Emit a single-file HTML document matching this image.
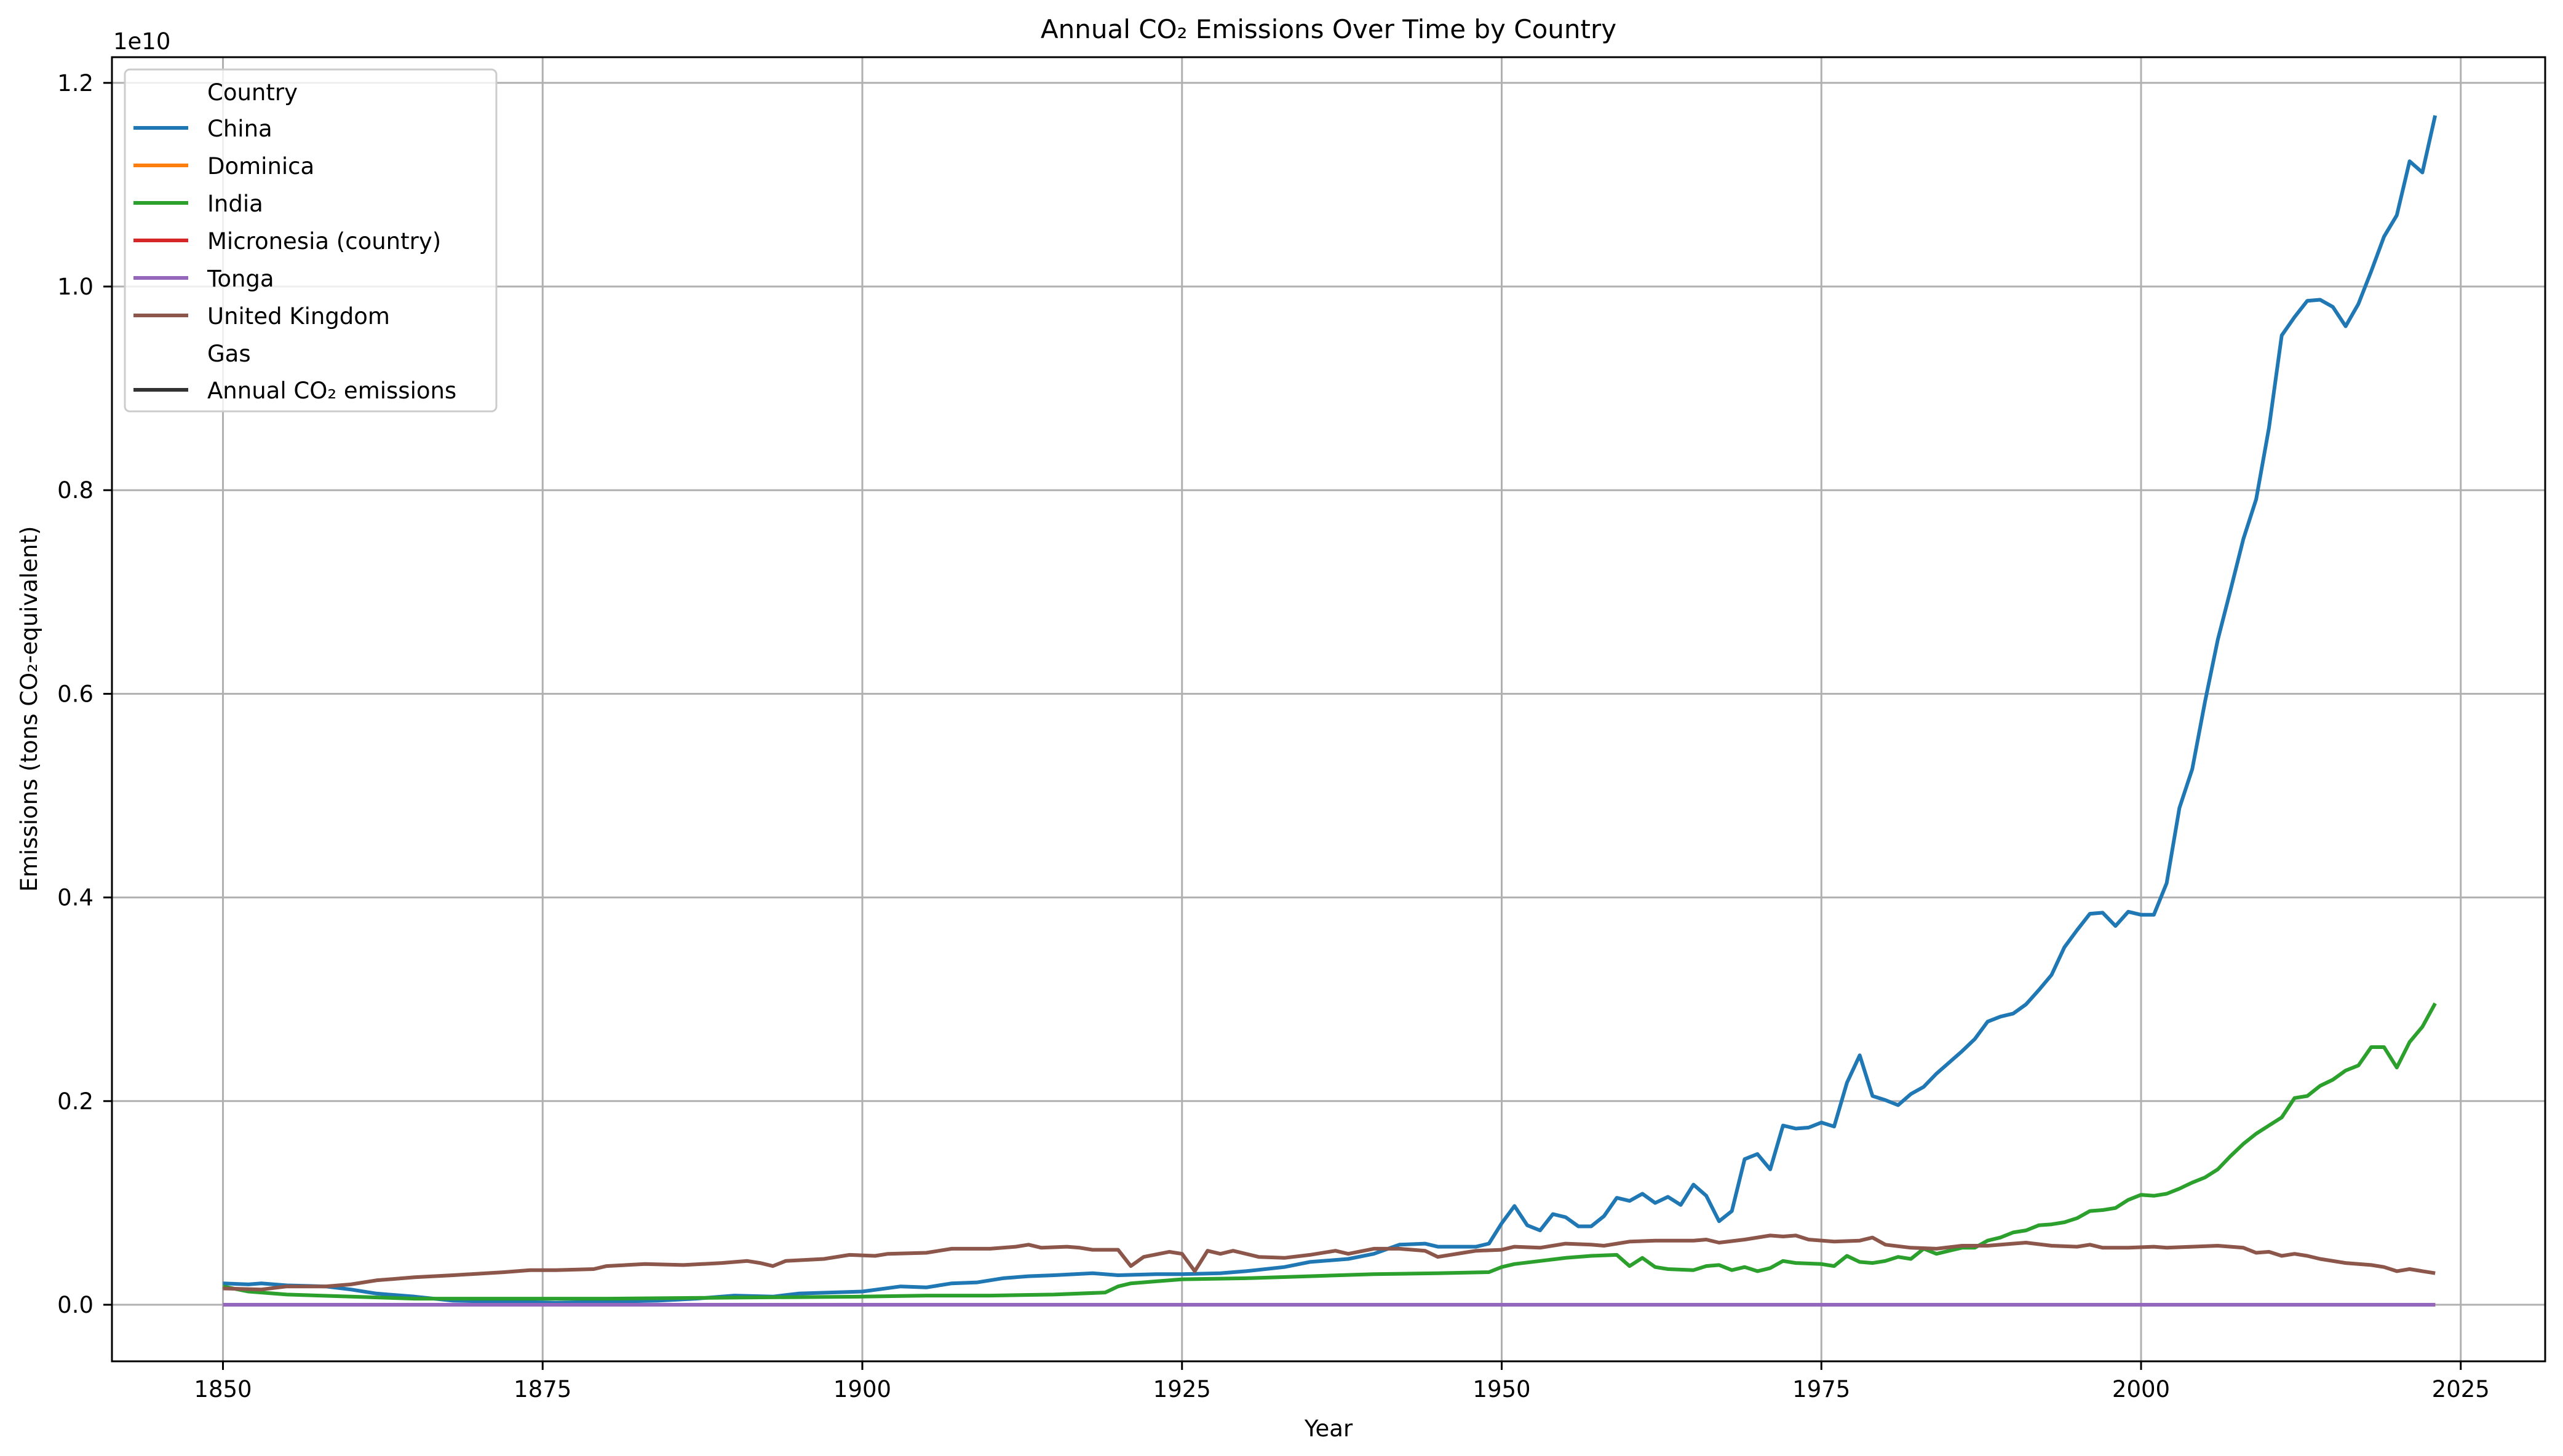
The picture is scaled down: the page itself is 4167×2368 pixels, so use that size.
<!DOCTYPE html>
<html><head><meta charset="utf-8"><style>
html,body{margin:0;padding:0;background:#fff;}
svg{display:block;font-family:"DejaVu Sans","Liberation Sans",sans-serif;}
</style></head><body>
<svg id="chart" width="4167" height="2368" viewBox="0 0 4167 2368" xmlns="http://www.w3.org/2000/svg">
<rect width="4167" height="2368" fill="#fff"/>
<g id="grid"></g>
<g id="series"></g>
<rect x="182" y="93" width="3956" height="2121" fill="none" stroke="#000" stroke-width="3"/>
<g id="axes"></g>
<text x="2160" y="62" font-size="42" text-anchor="middle">Annual CO₂ Emissions Over Time by Country</text>
<text x="2160" y="2336" font-size="37" text-anchor="middle">Year</text>
<text x="0" y="0" font-size="37" text-anchor="middle" transform="translate(60,1153) rotate(-90)">Emissions (tons CO₂-equivalent)</text>
<text x="184" y="80" font-size="37">1e10</text>
<g>
<rect x="203" y="113" width="604" height="556" rx="8" fill="#fff" fill-opacity="0.8" stroke="#ccc" stroke-width="3"/>
<text x="337" y="163" font-size="37">Country</text>
<line x1="217" y1="208" x2="306" y2="208" stroke="#1f77b4" stroke-width="6"/>
<text x="337" y="222" font-size="37">China</text>
<line x1="217" y1="269" x2="306" y2="269" stroke="#ff7f0e" stroke-width="6"/>
<text x="337" y="283" font-size="37">Dominica</text>
<line x1="217" y1="330" x2="306" y2="330" stroke="#2ca02c" stroke-width="6"/>
<text x="337" y="344" font-size="37">India</text>
<line x1="217" y1="391" x2="306" y2="391" stroke="#d62728" stroke-width="6"/>
<text x="337" y="405" font-size="37">Micronesia (country)</text>
<line x1="217" y1="452" x2="306" y2="452" stroke="#9467bd" stroke-width="6"/>
<text x="337" y="466" font-size="37">Tonga</text>
<line x1="217" y1="513" x2="306" y2="513" stroke="#8c564b" stroke-width="6"/>
<text x="337" y="527" font-size="37">United Kingdom</text>
<text x="337" y="588" font-size="37">Gas</text>
<line x1="217" y1="634" x2="306" y2="634" stroke="#333" stroke-width="6"/>
<text x="337" y="648" font-size="37">Annual CO₂ emissions</text>
</g>
</svg>
<script>
const xTicks = [1850, 1875, 1900, 1925, 1950, 1975, 2000, 2025];
const yTicks = [0, 0.2, 0.4, 0.6, 0.8, 1.0, 1.2];
const yTickLabels = ["0.0", "0.2", "0.4", "0.6", "0.8", "1.0", "1.2"];
const chinaYears = [1850,1852,1853,1855,1858,1860,1862,1865,1868,1872,1876,1880,1884,1887,1890,1893,1895,1900,1903,1905,1907,1909,1911,1913,1915,1918,1920,1923,1925,1928,1930,1933,1935,1938,1940,1942,1944,1945,1948,1949,1950,1951,1952,1953,1954,1955,1956,1957,1958,1959,1960,1961,1962,1963,1964,1965,1966,1967,1968,1969,1970,1971,1972,1973,1974,1975,1976,1977,1978,1979,1980,1981,1982,1983,1984,1985,1986,1987,1988,1989,1990,1991,1992,1993,1994,1995,1996,1997,1998,1999,2000,2001,2002,2003,2004,2005,2006,2007,2008,2009,2010,2011,2012,2013,2014,2015,2016,2017,2018,2019,2020,2021,2022,2023];
const chinaValues = [0.21,0.20,0.21,0.19,0.18,0.15,0.11,0.08,0.04,0.03,0.02,0.03,0.04,0.06,0.09,0.08,0.11,0.13,0.18,0.17,0.21,0.22,0.26,0.28,0.29,0.31,0.29,0.30,0.30,0.31,0.33,0.37,0.42,0.45,0.50,0.59,0.60,0.57,0.57,0.60,0.80,0.97,0.78,0.73,0.89,0.86,0.77,0.77,0.87,1.05,1.02,1.09,1.00,1.06,0.98,1.18,1.07,0.82,0.92,1.43,1.48,1.33,1.76,1.73,1.74,1.79,1.75,2.18,2.45,2.05,2.01,1.96,2.07,2.14,2.27,2.38,2.49,2.61,2.78,2.83,2.86,2.95,3.09,3.24,3.51,3.68,3.84,3.85,3.72,3.86,3.83,3.83,4.14,4.88,5.26,5.92,6.53,7.02,7.52,7.91,8.61,9.52,9.70,9.86,9.87,9.80,9.61,9.83,10.15,10.49,10.70,11.23,11.12,11.68];
const indiaYears = [1850,1852,1855,1860,1865,1870,1880,1890,1900,1905,1910,1915,1919,1920,1921,1923,1925,1930,1935,1940,1945,1949,1950,1951,1953,1955,1957,1959,1960,1961,1962,1963,1965,1966,1967,1968,1969,1970,1971,1972,1973,1975,1976,1977,1978,1979,1980,1981,1982,1983,1984,1985,1986,1987,1988,1989,1990,1991,1992,1993,1994,1995,1996,1997,1998,1999,2000,2001,2002,2003,2004,2005,2006,2007,2008,2009,2010,2011,2012,2013,2014,2015,2016,2017,2018,2019,2020,2021,2022,2023];
const indiaValues = [0.18,0.13,0.10,0.08,0.06,0.06,0.06,0.07,0.08,0.09,0.09,0.10,0.12,0.18,0.21,0.23,0.25,0.26,0.28,0.30,0.31,0.32,0.37,0.40,0.43,0.46,0.48,0.49,0.38,0.46,0.37,0.35,0.34,0.38,0.39,0.34,0.37,0.33,0.36,0.43,0.41,0.40,0.38,0.48,0.42,0.41,0.43,0.47,0.45,0.55,0.50,0.53,0.56,0.56,0.63,0.66,0.71,0.73,0.78,0.79,0.81,0.85,0.92,0.93,0.95,1.03,1.08,1.07,1.09,1.14,1.20,1.25,1.33,1.46,1.58,1.68,1.76,1.84,2.03,2.05,2.15,2.21,2.30,2.35,2.53,2.53,2.33,2.58,2.73,2.96];
const ukYears = [1850,1853,1855,1858,1860,1862,1865,1868,1872,1874,1876,1879,1880,1883,1886,1889,1891,1892,1893,1894,1897,1899,1901,1902,1905,1907,1910,1912,1913,1914,1916,1917,1918,1920,1921,1922,1924,1925,1926,1927,1928,1929,1931,1933,1935,1937,1938,1940,1942,1944,1945,1947,1948,1950,1951,1953,1955,1957,1958,1960,1962,1965,1966,1967,1969,1971,1972,1973,1974,1976,1978,1979,1980,1982,1984,1986,1988,1990,1991,1993,1995,1996,1997,1999,2001,2002,2004,2006,2008,2009,2010,2011,2012,2013,2014,2016,2018,2019,2020,2021,2022,2023];
const ukValues = [0.16,0.15,0.18,0.18,0.20,0.24,0.27,0.29,0.32,0.34,0.34,0.35,0.38,0.40,0.39,0.41,0.43,0.41,0.38,0.43,0.45,0.49,0.48,0.50,0.51,0.55,0.55,0.57,0.59,0.56,0.57,0.56,0.54,0.54,0.38,0.47,0.52,0.50,0.33,0.53,0.50,0.53,0.47,0.46,0.49,0.53,0.50,0.55,0.55,0.53,0.47,0.51,0.53,0.54,0.57,0.56,0.60,0.59,0.58,0.62,0.63,0.63,0.64,0.61,0.64,0.68,0.67,0.68,0.64,0.62,0.63,0.66,0.59,0.56,0.55,0.58,0.58,0.60,0.61,0.58,0.57,0.59,0.56,0.56,0.57,0.56,0.57,0.58,0.56,0.51,0.52,0.48,0.50,0.48,0.45,0.41,0.39,0.37,0.33,0.35,0.33,0.31];
const smallYears = [1850, 2023];
const dominicaValues = [0, 0];
const micronesiaValues = [0, 0];
const tongaValues = [0, 0];

const NS = "http://www.w3.org/2000/svg";
function xScale(yr){ return 362.5 + (yr - 1850) * 20.79; }
function yScale(v){ return 2122 - v * 1656; } // v in 1e10
function yScaleBillions(v){ return yScale(v / 10); }

const grid = document.getElementById('grid');
const axes = document.getElementById('axes');
xTicks.forEach(t => {
  const x = xScale(t);
  const g = document.createElementNS(NS, 'line');
  g.setAttribute('x1', x); g.setAttribute('x2', x); g.setAttribute('y1', 93); g.setAttribute('y2', 2214);
  g.setAttribute('stroke', '#b0b0b0'); g.setAttribute('stroke-width', '3');
  
  
  grid.appendChild(g);
  const tk = document.createElementNS(NS, 'line');
  tk.setAttribute('x1', x); tk.setAttribute('x2', x); tk.setAttribute('y1', 2214); tk.setAttribute('y2', 2228);
  tk.setAttribute('stroke', '#000'); tk.setAttribute('stroke-width', '3');
  
  
  axes.appendChild(tk);
  const lb = document.createElementNS(NS, 'text');
  lb.setAttribute('x', x); lb.setAttribute('y', 2272); lb.setAttribute('font-size', '37'); lb.setAttribute('text-anchor', 'middle');
  lb.textContent = t;
  
  
  axes.appendChild(lb);
});
yTicks.forEach((t, i) => {
  const y = yScale(t);
  const g = document.createElementNS(NS, 'line');
  g.setAttribute('x1', 182); g.setAttribute('x2', 4138); g.setAttribute('y1', y); g.setAttribute('y2', y);
  g.setAttribute('stroke', '#b0b0b0'); g.setAttribute('stroke-width', '3');
  
  
  grid.appendChild(g);
  const tk = document.createElementNS(NS, 'line');
  tk.setAttribute('x1', 168); tk.setAttribute('x2', 182); tk.setAttribute('y1', y); tk.setAttribute('y2', y);
  tk.setAttribute('stroke', '#000'); tk.setAttribute('stroke-width', '3');
  
  
  axes.appendChild(tk);
  const lb = document.createElementNS(NS, 'text');
  lb.setAttribute('x', 152); lb.setAttribute('y', y + 13); lb.setAttribute('font-size', '37'); lb.setAttribute('text-anchor', 'end');
  lb.textContent = yTickLabels[i];
  
  
  axes.appendChild(lb);
});

const series = document.getElementById('series');
function drawLine(years, vals, color, name){
  const pts = years.map((yr, i) => xScale(yr).toFixed(1) + ',' + yScaleBillions(vals[i]).toFixed(1)).join(' ');
  const pl = document.createElementNS(NS, 'polyline');
  pl.setAttribute('points', pts);
  pl.setAttribute('fill', 'none'); pl.setAttribute('stroke', color); pl.setAttribute('stroke-width', '6');
  pl.setAttribute('stroke-linejoin', 'round');
  
  
  series.appendChild(pl);
}
drawLine(chinaYears, chinaValues, '#1f77b4', 'china-line');
drawLine(smallYears, dominicaValues, '#ff7f0e', 'dominica-line');
drawLine(indiaYears, indiaValues, '#2ca02c', 'india-line');
drawLine(smallYears, micronesiaValues, '#d62728', 'micronesia-line');
drawLine(smallYears, tongaValues, '#9467bd', 'tonga-line');
drawLine(ukYears, ukValues, '#8c564b', 'united-kingdom-line');
</script>
</body></html>
